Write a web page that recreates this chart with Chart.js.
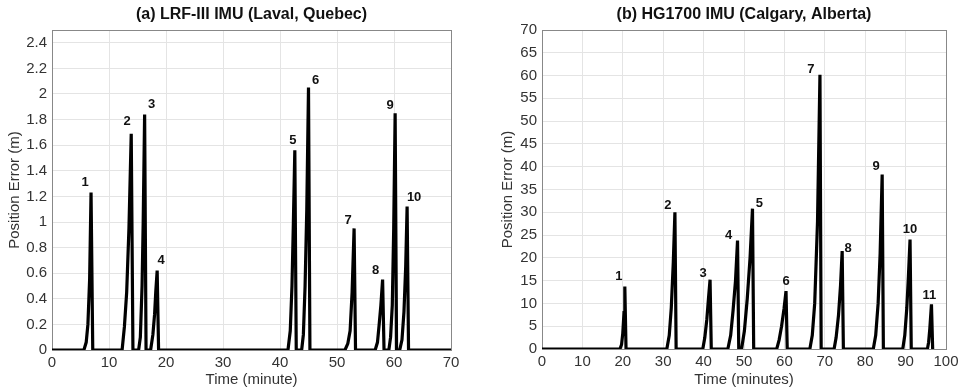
<!DOCTYPE html>
<html>
<head>
<meta charset="utf-8">
<script src="https://cdn.jsdelivr.net/npm/chart.js@4/dist/chart.umd.min.js"></script>
<style>
  html, body { margin: 0; padding: 0; background: #fff; }
  #wrap { position: relative; width: 963px; height: 391px; }
  canvas { position: absolute; top: 0; }
  #chartA { left: 0; }
  #chartB { left: 480px; }
</style>
</head>
<body>
<div id="wrap">
  <canvas id="chartA" width="480" height="391"></canvas>
  <canvas id="chartB" width="483" height="391"></canvas>
</div>
<script>
// (a) LRF-III IMU, Laval -- time in minutes, error in metres
const aTime = [0,
  5.6, 6.0, 6.3, 6.6, 6.85, 7.15,
  12.3, 12.7, 13.1, 13.5, 13.9, 14.2,
  15.2, 15.5, 15.8, 16.0, 16.25, 16.5,
  17.3, 17.7, 18.0, 18.2, 18.45, 18.7,
  41.4, 41.8, 42.1, 42.35, 42.6, 42.85,
  43.8, 44.1, 44.4, 44.7, 45.0, 45.25,
  51.4, 51.9, 52.3, 52.65, 53.0, 53.25,
  56.7, 57.1, 57.4, 57.7, 58.0, 58.25,
  59.1, 59.4, 59.7, 59.95, 60.2, 60.45,
  61.0, 61.4, 61.75, 62.05, 62.3, 62.55,
  70];
const aError = [0,
  0, 0.06, 0.2, 0.55, 1.23, 0,
  0, 0.18, 0.45, 0.95, 1.69, 0,
  0, 0.1, 0.5, 1.0, 1.84, 0,
  0, 0.12, 0.28, 0.45, 0.62, 0,
  0, 0.15, 0.5, 1.0, 1.56, 0,
  0, 0.12, 0.5, 1.1, 2.05, 0,
  0, 0.05, 0.15, 0.45, 0.95, 0,
  0, 0.06, 0.2, 0.35, 0.55, 0,
  0, 0.1, 0.35, 0.95, 1.85, 0,
  0, 0.08, 0.3, 0.65, 1.12, 0,
  0];
const aPeakLabels = ['1','2','3','4','5','6','7','8','9','10'];
const aPeakTime  = [6.85, 13.9, 16.25, 18.45, 42.6, 45.0, 53.0, 58.0, 60.2, 62.3];
const aPeakError = [1.23, 1.69, 1.84, 0.62, 1.56, 2.05, 0.95, 0.55, 1.85, 1.12];

// (b) HG1700 IMU, Calgary
const bTime = [0,
  19.3, 19.7, 20.0, 20.3, 20.5, 20.8,
  30.9, 31.5, 32.0, 32.5, 32.9, 33.2,
  39.8, 40.3, 40.8, 41.2, 41.6, 41.9,
  46.0, 46.7, 47.3, 47.9, 48.4, 48.7,
  49.4, 50.1, 50.8, 51.5, 52.1, 52.4,
  58.1, 58.7, 59.3, 59.9, 60.4, 60.7,
  66.3, 66.9, 67.5, 68.2, 68.8, 69.1,
  72.3, 72.8, 73.4, 73.9, 74.3, 74.6,
  82.0, 82.6, 83.2, 83.7, 84.2, 84.5,
  89.3, 89.8, 90.3, 90.7, 91.1, 91.4,
  95.4, 95.7, 96.0, 96.4, 96.7];
const bError = [0,
  0, 1.0, 3.5, 8, 13.7, 0,
  0, 3, 9, 19, 30, 0,
  0, 2.5, 6.5, 11, 15.2, 0,
  0, 3, 8.5, 15, 23.8, 0,
  0, 4, 11, 20, 30.8, 0,
  0, 2, 5, 8.8, 12.7, 0,
  0, 3, 10, 28, 60.2, 0,
  0, 2.5, 7.5, 14, 21.5, 0,
  0, 3, 10, 21, 38.3, 0,
  0, 3, 9, 16, 24, 0,
  0, 1.5, 4.5, 9.8, 0];
const bPeakLabels = ['1','2','3','4','5','6','7','8','9','10','11'];
const bPeakTime  = [20.5, 32.9, 41.6, 48.4, 52.1, 60.4, 68.8, 74.3, 84.2, 91.1, 96.4];
const bPeakError = [13.7, 30, 15.2, 23.8, 30.8, 12.7, 60.2, 21.5, 38.3, 24, 9.8];

// label nudges (px) relative to each peak tip
const aLabelDx = [-6, -4, 7, 4, -2, 7, -6, -7, -5, 7];
const aLabelDy = [-10, -12, -10, -10, -10, -7, -8, -9, -8, -9];
const bLabelDx = [-6, -7, -7, -9, 7, 0, -9, 6, -6, 0, -2];
const bLabelDy = [-10, -7, -6, -5, -5, -10, -5, -3, -8, -10, -9];

const FONT = 'Liberation Sans, Arial, sans-serif';

const peakLabels = {
  id: 'peakLabels',
  afterDatasetsDraw(chart, args, opts) {
    const ctx = chart.ctx;
    const xs = chart.scales.x, ys = chart.scales.y;
    ctx.save();
    ctx.font = 'bold 13px ' + FONT;
    ctx.fillStyle = '#111';
    ctx.textAlign = 'center';
    ctx.textBaseline = 'middle';
    opts.labels.forEach((lab, i) => {
      const px = xs.getPixelForValue(opts.times[i]) + opts.dx[i];
      const py = ys.getPixelForValue(opts.values[i]) + opts.dy[i];
      ctx.fillText(lab, px, py);
    });
    ctx.restore();
  }
};

function makeChart(id, cfg) {
  const pts = cfg.time.map((t, i) => ({ x: t, y: cfg.error[i] }));
  return new Chart(document.getElementById(id), {
    type: 'line',
    data: {
      datasets: [{
        data: pts,
        borderColor: '#000',
        borderWidth: 3.2,
        pointRadius: 0,
        tension: 0,
        fill: false
      }]
    },
    options: {
      responsive: false,
      animation: false,
      layout: { padding: { left: 0, right: cfg.padRight, top: 0, bottom: 0 } },
      plugins: {
        legend: { display: false },
        tooltip: { enabled: false },
        title: {
          display: true,
          fullSize: false,
          text: cfg.title,
          color: '#111',
          font: { family: FONT, size: 16, weight: 'bold' },
          padding: { top: 5, bottom: 5.8 }
        },
        peakLabels: { labels: cfg.labels, times: cfg.peakT, values: cfg.peakV, dx: cfg.dx, dy: cfg.dy }
      },
      scales: {
        x: {
          type: 'linear',
          min: 0, max: cfg.xMax,
          afterFit: s => { s.height = cfg.xHeight; },
          ticks: { stepSize: 10, padding: 4, color: '#333', font: { family: FONT, size: 15 }, maxRotation: 0 },
          grid: { color: '#e4e4e4', drawTicks: false },
          border: { color: '#888' },
          title: { display: true, text: cfg.xTitle, color: '#333', font: { family: FONT, size: 15 }, padding: { top: 0, bottom: 2 } }
        },
        y: {
          min: 0, max: cfg.yMax,
          afterFit: s => { s.width = cfg.yWidth; },
          afterBuildTicks: s => { s.ticks = cfg.yTicks.map(v => ({ value: v })); },
          ticks: { padding: 5, color: '#333', font: { family: FONT, size: 15 }, callback: v => String(+v.toFixed(1)) },
          grid: { color: '#e4e4e4', drawTicks: false },
          border: { color: '#888' },
          title: { display: true, text: 'Position Error (m)', color: '#333', font: { family: FONT, size: 15 }, padding: { top: cfg.yTitlePad, bottom: 0 } }
        },
        x2: { position: 'top', type: 'linear', display: true, ticks: { display: false }, grid: { display: false, drawTicks: false }, border: { color: '#888' }, afterFit: s => { s.height = 0; } },
        y2: { position: 'right', display: true, ticks: { display: false }, grid: { display: false, drawTicks: false }, border: { color: '#888' }, afterFit: s => { s.width = 0; } }
      }
    },
    plugins: [peakLabels]
  });
}

const aYTicks = [0, 0.2, 0.4, 0.6, 0.8, 1, 1.2, 1.4, 1.6, 1.8, 2, 2.2, 2.4];
const bYTicks = [0, 5, 10, 15, 20, 25, 30, 35, 40, 45, 50, 55, 60, 65, 70];

makeChart('chartA', {
  title: '(a) LRF-III IMU (Laval, Quebec)',
  time: aTime, error: aError,
  labels: aPeakLabels, peakT: aPeakTime, peakV: aPeakError, dx: aLabelDx, dy: aLabelDy,
  xMax: 70, yMax: 2.5, yTicks: aYTicks,
  xTitle: 'Time (minute)',
  padRight: 29, yWidth: 52, xHeight: 41, yTitlePad: 6
});

makeChart('chartB', {
  title: '(b) HG1700 IMU (Calgary, Alberta)',
  time: bTime, error: bError,
  labels: bPeakLabels, peakT: bPeakTime, peakV: bPeakError, dx: bLabelDx, dy: bLabelDy,
  xMax: 100, yMax: 70, yTicks: bYTicks,
  xTitle: 'Time (minutes)',
  padRight: 17, yWidth: 62, xHeight: 42, yTitlePad: 19
});
</script>
</body>
</html>
